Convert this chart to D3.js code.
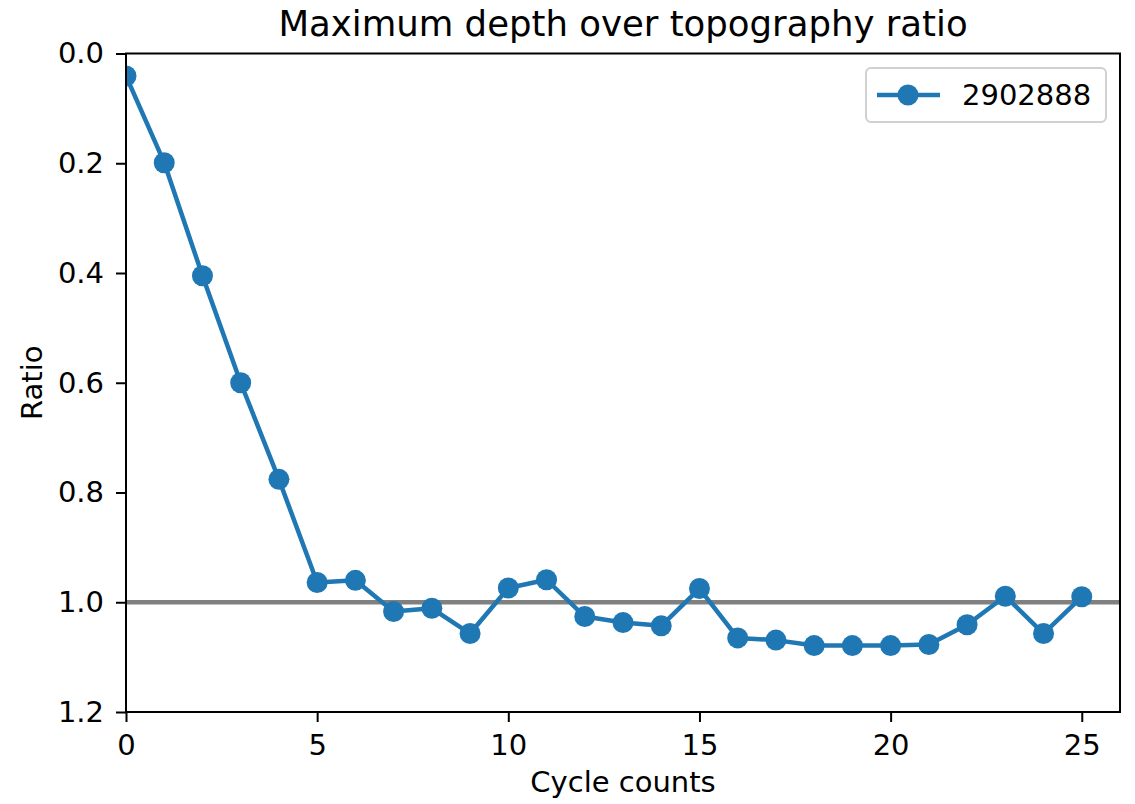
<!doctype html>
<html lang="en">
  <head>
    <meta charset="utf-8">
    <title>Maximum depth over topography ratio</title>
    <style>
      body { margin: 0; background: #fff; }
      text { font-family: "DejaVu Sans", sans-serif; fill: #000; }
    </style>
  </head>
  <body>
    <div id="main-chart"></div>

    <script src="https://d3js.org/d3.v7.min.js"></script>
    <script>
      // Data
      var cycles = [0, 1, 2, 3, 4, 5, 6, 7, 8, 9, 10, 11, 12, 13, 14, 15, 16, 17, 18, 19, 20, 21, 22, 23, 24, 25];
      var ratios = [0.041, 0.199, 0.405, 0.600, 0.776, 0.964, 0.960, 1.017, 1.011, 1.057,
                    0.974, 0.959, 1.026, 1.037, 1.043, 0.975, 1.065, 1.069, 1.079, 1.079,
                    1.079, 1.077, 1.041, 0.989, 1.057, 0.990];
      var seriesName = "2902888";
      var xTicks = [0, 5, 10, 15, 20, 25];
      var yTicks = [0.0, 0.2, 0.4, 0.6, 0.8, 1.0, 1.2];
      var refLine = 1.0;

      var W = 1135, H = 804;
      var margin = {left: 126, right: 1120, top: 53.5, bottom: 712};
      var blue = "#1f77b4";
      var fs = "29px";

      var svg = d3.select("#main-chart")
        .append("svg")
        .attr("width", W)
        .attr("height", H);

      var x = d3.scaleLinear().domain([0, 26]).range([margin.left, margin.right]);
      var y = d3.scaleLinear().domain([0, 1.2]).range([margin.top, margin.bottom]);

      // clip for plot area
      svg.append("clipPath").attr("id", "plot-clip")
        .append("rect")
        .attr("x", margin.left).attr("y", margin.top)
        .attr("width", margin.right - margin.left).attr("height", margin.bottom - margin.top);

      var plot = svg.append("g").attr("clip-path", "url(#plot-clip)");

      // Reference line at 1.0
      plot.append("line")
        .attr("x1", margin.left).attr("x2", margin.right)
        .attr("y1", y(refLine)).attr("y2", y(refLine))
        .attr("stroke", "#808080")
        .attr("stroke-width", 4.5);

      var data = cycles.map(function(c, i) { return {x: c, y: ratios[i]}; });

      var line = d3.line()
        .x(function(d) { return x(d.x); })
        .y(function(d) { return y(d.y); });

      plot.append("path")
        .datum(data)
        .attr("d", line)
        .attr("fill", "none")
        .attr("stroke", blue)
        .attr("stroke-width", 4.5)
        .attr("stroke-linejoin", "round");

      plot.selectAll("circle")
        .data(data)
        .enter()
        .append("circle")
        .attr("cx", function(d) { return x(d.x); })
        .attr("cy", function(d) { return y(d.y); })
        .attr("r", 10.5)
        .attr("fill", blue);

      // X axis
      var xAxis = svg.append("g")
        .attr("transform", "translate(0," + margin.bottom + ")")
        .call(d3.axisBottom(x).tickValues(xTicks).tickFormat(d3.format("d")).tickSize(10).tickPadding(12));
      xAxis.select(".domain").remove();
      xAxis.selectAll("line").attr("stroke", "#000").attr("stroke-width", 2);
      xAxis.selectAll("text").attr("font-size", fs).attr("font-family", "DejaVu Sans").attr("fill", "#000");

      // Y axis
      var yAxis = svg.append("g")
        .attr("transform", "translate(" + margin.left + ",0)")
        .call(d3.axisLeft(y).tickValues(yTicks).tickFormat(d3.format(".1f")).tickSize(10).tickPadding(12));
      yAxis.select(".domain").remove();
      yAxis.selectAll("line").attr("stroke", "#000").attr("stroke-width", 2);
      yAxis.selectAll("text").attr("font-size", fs).attr("font-family", "DejaVu Sans").attr("fill", "#000");

      // Spines
      svg.append("rect")
        .attr("x", margin.left).attr("y", margin.top)
        .attr("width", margin.right - margin.left).attr("height", margin.bottom - margin.top)
        .attr("fill", "none")
        .attr("stroke", "#000")
        .attr("stroke-width", 2);

      // Title and labels
      svg.append("text")
        .attr("x", (margin.left + margin.right) / 2)
        .attr("y", 36)
        .attr("text-anchor", "middle")
        .attr("font-size", "35.5px")
        .text("Maximum depth over topography ratio");

      svg.append("text")
        .attr("x", (margin.left + margin.right) / 2)
        .attr("y", 792)
        .attr("text-anchor", "middle")
        .attr("font-size", fs)
        .text("Cycle counts");

      svg.append("text")
        .attr("transform", "translate(42," + ((margin.top + margin.bottom) / 2) + ") rotate(-90)")
        .attr("text-anchor", "middle")
        .attr("font-size", fs)
        .text("Ratio");

      // Legend
      var legend = svg.append("g");
      legend.append("rect")
        .attr("x", 866).attr("y", 68)
        .attr("width", 240).attr("height", 54)
        .attr("rx", 5)
        .attr("fill", "#fff")
        .attr("fill-opacity", 0.8)
        .attr("stroke", "#d0d0d0")
        .attr("stroke-width", 2);
      legend.append("line")
        .attr("x1", 877).attr("x2", 940)
        .attr("y1", 95).attr("y2", 95)
        .attr("stroke", blue)
        .attr("stroke-width", 4.5);
      legend.append("circle")
        .attr("cx", 908).attr("cy", 95)
        .attr("r", 10.5)
        .attr("fill", blue);
      legend.append("text")
        .attr("x", 962).attr("y", 105)
        .attr("font-size", fs)
        .text(seriesName);
    </script>
  </body>
</html>
